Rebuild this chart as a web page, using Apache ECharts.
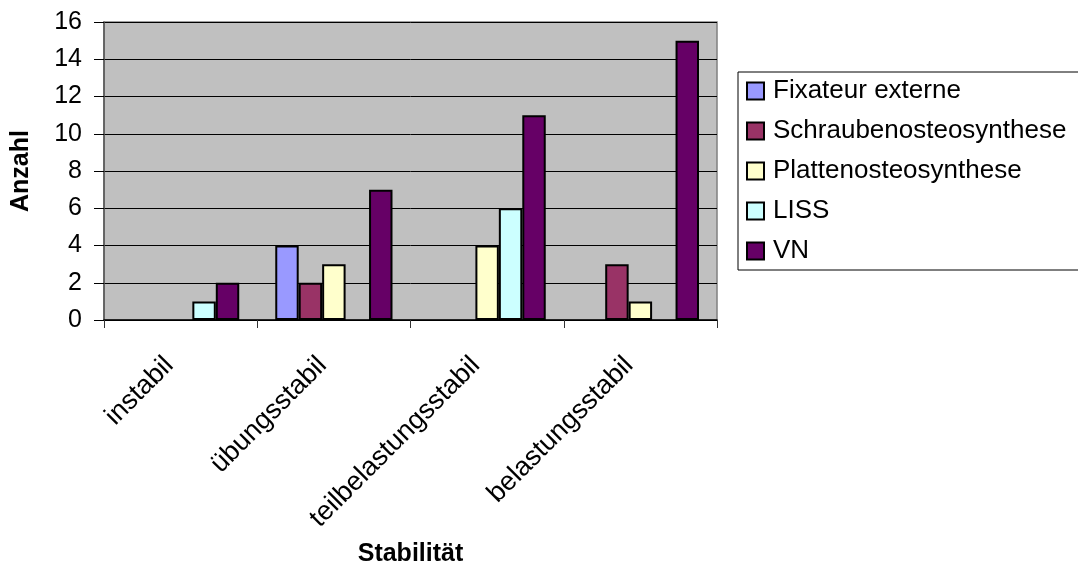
<!DOCTYPE html>
<html>
<head>
<meta charset="utf-8">
<title>Stabilität</title>
<script src="https://cdn.jsdelivr.net/npm/echarts@6/dist/echarts.min.js"></script>
<style>
  html, body { margin: 0; padding: 0; background: #ffffff; }
  #chart { width: 1078px; height: 571px; }
</style>
</head>
<body>
<div id="chart"></div>
<script>
// Categories on the x axis
const categories = ['instabil', 'übungsstabil', 'teilbelastungsstabil', 'belastungsstabil'];

// Counts per treatment, one value per category
const fixateurExterne        = [0, 4, 0, 0];
const schraubenosteosynthese = [0, 2, 0, 3];
const plattenosteosynthese   = [0, 3, 4, 1];
const liss                   = [1, 0, 6, 0];
const vn                     = [2, 7, 11, 15];

const seriesNames = ['Fixateur externe', 'Schraubenosteosynthese', 'Plattenosteosynthese', 'LISS', 'VN'];
const seriesValues = [fixateurExterne, schraubenosteosynthese, plattenosteosynthese, liss, vn];
const seriesColors = ['#9999FF', '#993366', '#FFFFCC', '#CCFFFF', '#660066'];

const FONT = "'Liberation Sans', Arial, sans-serif";

const chart = echarts.init(document.getElementById('chart'), null, { renderer: 'canvas' });

const series = seriesNames.map((name, i) => ({
  name: name,
  type: 'bar',
  // empty bars are left out so no outline is drawn on the axis
  data: seriesValues[i].map(v => (v === 0 ? '-' : v)),
  barGap: '0%',
  barCategoryGap: '23.5%',
  itemStyle: { color: seriesColors[i], borderColor: '#000000', borderWidth: 2 },
  emphasis: { disabled: true },
  animation: false
}));

chart.setOption({
  animation: false,
  backgroundColor: '#ffffff',
  textStyle: { fontFamily: FONT },
  grid: {
    left: 104, top: 22, right: 361, bottom: 251,
    containLabel: false,
    outerBoundsMode: 'none',
    show: true,
    backgroundColor: '#C0C0C0',
    borderColor: '#808080',
    borderWidth: 1.5
  },
  legend: {
    orient: 'vertical',
    left: 738, top: 72,
    padding: [6, 24, 6, 8],
    itemGap: 14,
    itemWidth: 17, itemHeight: 17,
    icon: 'rect',
    backgroundColor: '#ffffff',
    borderColor: '#000000',
    borderWidth: 1,
    selectedMode: false,
    itemStyle: { borderColor: '#000000', borderWidth: 2 },
    textStyle: { fontFamily: FONT, fontSize: 26, color: '#000000', padding: [0, 0, 0, 4] },
    data: seriesNames
  },
  xAxis: {
    type: 'category',
    data: categories,
    name: 'Stabilität',
    nameLocation: 'middle',
    nameGap: 222,
    nameMoveOverlap: false,
    nameTextStyle: { fontFamily: FONT, fontSize: 25, fontWeight: 'bold', color: '#000000' },
    axisLine: { lineStyle: { color: '#000000', width: 1.5 } },
    axisTick: { show: true, length: 8, lineStyle: { color: '#333333', width: 1 } },
    axisLabel: {
      interval: 0, rotate: 45, margin: 30,
      // nudges the rotated labels to the left of each category centre
      padding: [0, 16, 31, 0],
      fontFamily: FONT, fontSize: 27, color: '#000000'
    },
    splitLine: { show: false }
  },
  yAxis: {
    type: 'value',
    min: 0, max: 16, interval: 2,
    name: 'Anzahl',
    nameLocation: 'middle',
    nameRotate: 90,
    nameGap: 70,
    nameMoveOverlap: false,
    nameTextStyle: { fontFamily: FONT, fontSize: 25, fontWeight: 'bold', color: '#000000' },
    axisLine: { show: true, lineStyle: { color: '#555555', width: 1.5 } },
    axisTick: { show: true, length: 10, lineStyle: { color: '#000000', width: 1 } },
    axisLabel: { margin: 22, fontFamily: FONT, fontSize: 25, color: '#000000' },
    splitLine: { show: true, lineStyle: { color: '#000000', width: 1 } }
  },
  series: series
});
</script>
</body>
</html>
